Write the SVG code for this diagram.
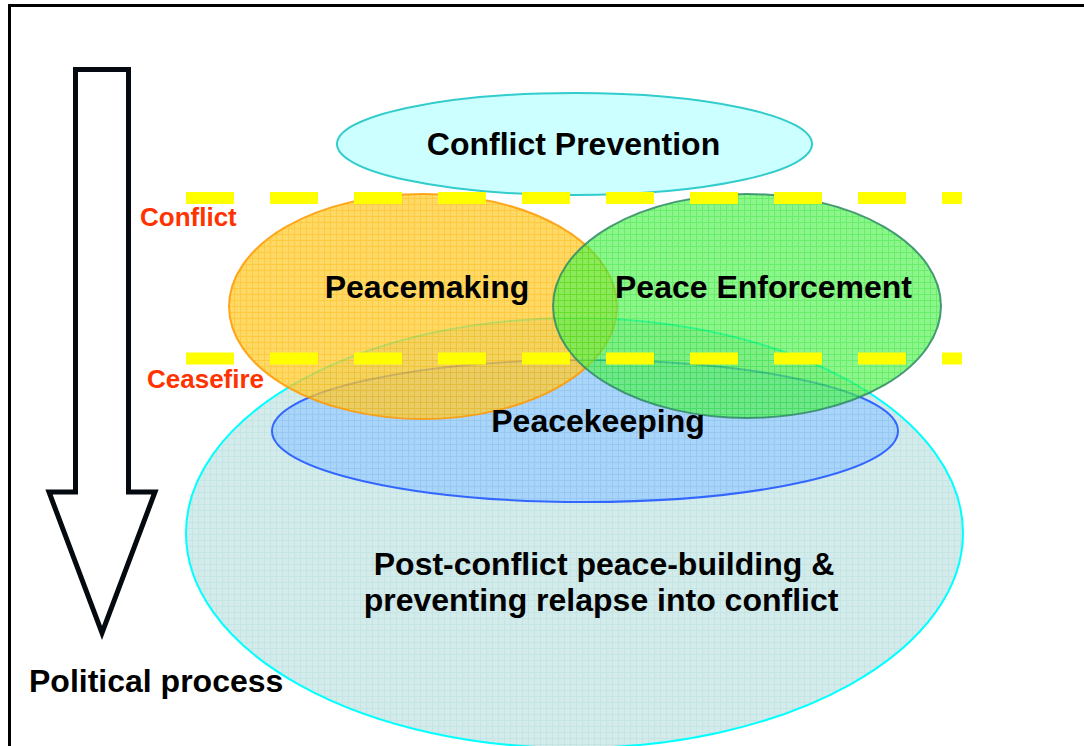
<svg xmlns="http://www.w3.org/2000/svg" width="1084" height="746" viewBox="0 0 1084 746">
<defs>
<style>
.lbl{font-family:"Liberation Sans",Arial,sans-serif;font-weight:bold;fill:#000;text-anchor:middle;font-size:32px}
.red{font-family:"Liberation Sans",Arial,sans-serif;font-weight:bold;fill:#ff3300;font-size:26px}
.dash{stroke:#ffff00;stroke-width:12;stroke-dasharray:48 36;fill:none}
</style>
<pattern id="pPost" width="6" height="6" patternUnits="userSpaceOnUse">
<rect width="6" height="6" fill="#b6dede"/>
<path d="M0 0.5H6M0.5 0V6" stroke="#9fd2d2" stroke-width="1"/>
</pattern>
<pattern id="pKeep" width="6" height="6" patternUnits="userSpaceOnUse">
<rect width="6" height="6" fill="#9ccdff"/>
<path d="M0 0.5H6M0.5 0V6" stroke="#88bff5" stroke-width="1"/>
</pattern>
<pattern id="pMake" width="6" height="6" patternUnits="userSpaceOnUse">
<rect width="6" height="6" fill="#ffcc33"/>
<path d="M0 0.5H6M0.5 0V6" stroke="#ffb800" stroke-width="1"/>
</pattern>
<pattern id="pEnf" width="6" height="6" patternUnits="userSpaceOnUse">
<rect width="6" height="6" fill="#55f055"/>
<path d="M0 0.5H6M0.5 0V6" stroke="#22e622" stroke-width="1"/>
</pattern>
</defs>
<rect width="1084" height="746" fill="#fff"/>
<rect id="frame" x="9.5" y="5.5" width="1200" height="900" fill="none" stroke="#000" stroke-width="3"/>

<g id="post-conflict">
<ellipse cx="574.5" cy="533" rx="388.5" ry="215" fill="url(#pPost)" fill-opacity="0.6" stroke="#00ffff" stroke-width="2"/>
</g>
<g id="peacekeeping">
<ellipse cx="585" cy="431" rx="313" ry="71" fill="url(#pKeep)" fill-opacity="0.75" stroke="#3366ff" stroke-width="2"/>
</g>
<g id="peacemaking">
<ellipse cx="423" cy="306.5" rx="194" ry="112.5" fill="url(#pMake)" fill-opacity="0.75" stroke="#ff9900" stroke-width="2" stroke-opacity="0.85"/>
</g>
<g id="peace-enforcement">
<ellipse cx="747" cy="306" rx="194" ry="112" fill="url(#pEnf)" fill-opacity="0.68" stroke="#2f8a66" stroke-width="2" stroke-opacity="0.85"/>
</g>
<g id="conflict-prevention">
<ellipse cx="574.5" cy="144" rx="237.5" ry="51" fill="#ccffff" stroke="#33cccc" stroke-width="2"/>
</g>

<g id="connectors">
<line class="dash" x1="186" y1="198" x2="962" y2="198"/>
<line class="dash" x1="186" y1="358.5" x2="962" y2="358.5"/>
<path id="political-arrow" d="M75.5 69.5H128.5V492H155L102 633L49 492H75.5Z" fill="#fff" stroke="#050a10" stroke-width="5" stroke-linejoin="miter"/>
</g>

<g id="labels">
<text class="lbl" x="573.5" y="155">Conflict Prevention</text>
<text class="lbl" x="427" y="298">Peacemaking</text>
<text class="lbl" x="763.5" y="298">Peace Enforcement</text>
<text class="lbl" x="598" y="432">Peacekeeping</text>
<text class="lbl" x="604" y="575">Post-conflict peace-building &amp;</text>
<text class="lbl" x="601" y="611">preventing relapse into conflict</text>
<text class="lbl" x="29" y="692" style="text-anchor:start">Political process</text>
<text class="red" x="140" y="226">Conflict</text>
<text class="red" x="147" y="388">Ceasefire</text>
</g>
</svg>
